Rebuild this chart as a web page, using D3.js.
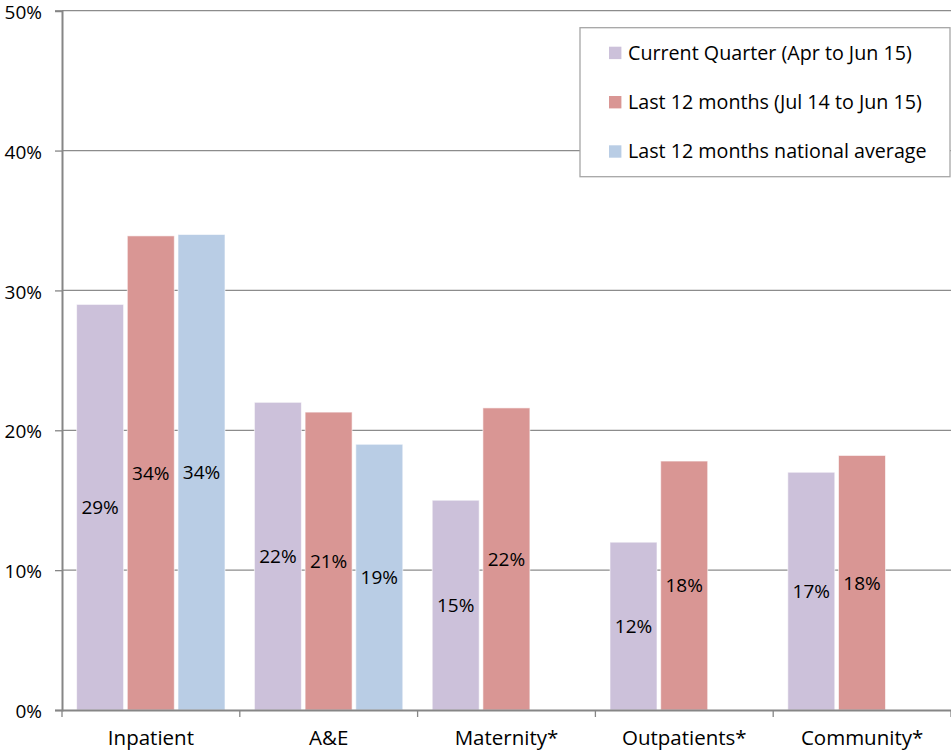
<!DOCTYPE html>
<html>
<head>
<meta charset="utf-8">
<script src="https://cdn.jsdelivr.net/npm/d3@7"></script>
<style>
  html, body { margin: 0; padding: 0; background: #fff; }
  svg { display: block; }
  text { font-family: "Open Sans", Lato, sans-serif; fill: #000; }
</style>
</head>
<body>
<svg id="chart" width="951" height="752"></svg>
<script>
// Categories and series
const categories = ["Inpatient", "A&E", "Maternity*", "Outpatients*", "Community*"];
const seriesNames = [
  "Current Quarter (Apr to Jun 15)",
  "Last 12 months (Jul 14 to Jun 15)",
  "Last 12 months national average"
];
const seriesColors = ["#CCC1DA", "#D99694", "#B9CDE5"];

// Values per series (null = not reported)
const currentQuarter = [0.29, 0.22, 0.15, 0.12, 0.17];
const last12Months   = [0.339, 0.213, 0.216, 0.178, 0.182];
const nationalAvg    = [0.34, 0.19, null, null, null];

const yTicks = [0, 0.1, 0.2, 0.3, 0.4, 0.5];

const seriesValues = [currentQuarter, last12Months, nationalAvg];

const FONT = "'Open Sans', Lato, sans-serif";

const svg = d3.select("#chart");
const plotLeft = 62, plotRight = 951, plotTop = 10.7, plotBottom = 710;

const x = d3.scaleBand().domain(categories).range([plotLeft, plotRight]).padding(0);
const xs = d3.scaleBand().domain(d3.range(seriesNames.length))
  .range([14.6, 163]).paddingInner(0.073).paddingOuter(0);
const y = d3.scaleLinear().domain([0, 0.5]).range([plotBottom, plotTop]);
const pct = d3.format(".0%");

// Gridlines
svg.append("g")
  .selectAll("line").data(yTicks.filter(d => d > 0)).join("line")
  .attr("x1", plotLeft).attr("x2", plotRight)
  .attr("y1", d => y(d)).attr("y2", d => y(d))
  .attr("stroke", "#8c8c8c").attr("stroke-width", 1.3);

// Bars
const rows = [];
categories.forEach((c, i) => {
  seriesValues.forEach((vals, s) => {
    if (vals[i] != null) rows.push({ c, s, v: vals[i] });
  });
});

svg.append("g").selectAll("rect").data(rows).join("rect")
  .attr("x", d => x(d.c) + xs(d.s))
  .attr("width", xs.bandwidth())
  .attr("y", d => y(d.v))
  .attr("height", d => y(0) - y(d.v))
  .attr("fill", d => seriesColors[d.s])
  .attr("stroke", "#fff").attr("stroke-opacity", 0.6).attr("stroke-width", 1);

// Data labels, centred in each bar
svg.append("g").selectAll("text").data(rows).join("text")
  .attr("x", d => x(d.c) + xs(d.s) + xs.bandwidth() / 2)
  .attr("y", d => (y(d.v) + y(0)) / 2)
  .attr("dy", "0.36em")
  .attr("text-anchor", "middle")
  .style("font-size", "19px")
  .text(d => pct(d.v));

// Y axis
const yAxis = svg.append("g").attr("transform", `translate(${plotLeft},0)`)
  .call(d3.axisLeft(y).tickValues(yTicks).tickFormat(pct).tickSize(7).tickPadding(13));
yAxis.select(".domain").attr("stroke", "#868686").attr("stroke-width", 2);
yAxis.selectAll(".tick line").attr("stroke", "#868686").attr("stroke-width", 1.3);
yAxis.selectAll(".tick text").attr("dy", "0.4em")
  .style("font-size", "19px").style("font-family", FONT).attr("fill", "#000");

// X axis
const xAxis = svg.append("g").attr("transform", `translate(0,${plotBottom})`)
  .call(d3.axisBottom(x).tickSize(0).tickPadding(20));
xAxis.select(".domain").attr("stroke", "#868686").attr("stroke-width", 2);
xAxis.selectAll(".tick text").style("font-size", "20.5px").style("font-family", FONT).attr("fill", "#000");
// Category separators
svg.append("g").selectAll("line").data(categories.concat([null])).join("line")
  .attr("x1", (d, i) => i < categories.length ? x(d) : plotRight)
  .attr("x2", (d, i) => i < categories.length ? x(d) : plotRight)
  .attr("y1", plotBottom).attr("y2", plotBottom + 7)
  .attr("stroke", "#868686").attr("stroke-width", 1.3);

// Legend
const legend = svg.append("g").attr("transform", "translate(580,27.7)");
legend.append("rect").attr("width", 370).attr("height", 149)
  .attr("fill", "#fff").attr("stroke", "#a6a6a6").attr("stroke-width", 1.3);
const items = legend.selectAll("g.item").data(seriesNames).join("g")
  .attr("class", "item")
  .attr("transform", (d, i) => `translate(29,${19 + i * 49.3})`);
items.append("rect").attr("width", 12.4).attr("height", 12.4)
  .attr("fill", (d, i) => seriesColors[i]);
items.append("text").attr("x", 19).attr("y", 13)
  .style("font-size", "19.7px").text(d => d);
</script>
</body>
</html>
